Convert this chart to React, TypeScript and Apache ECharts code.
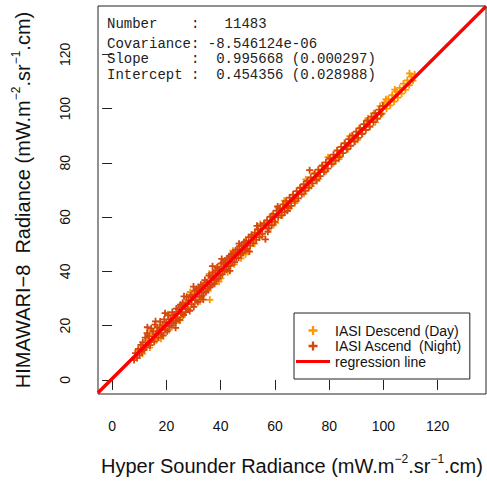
import React, { useEffect, useRef } from "react";
import * as echarts from "echarts";

// ---- data ----
const AXIS_MIN = -5.2;
const AXIS_MAX = 137.8;
const TICKS = [0, 20, 40, 60, 80, 100, 120];
const SLOPE = 0.995668;
const INTERCEPT = 0.454356;
const STAT_LINES = [
  "Number\u00A0\u00A0\u00A0\u00A0:\u00A0\u00A0\u00A011483",
  "Covariance:\u00A0-8.546124e-06",
  "Slope\u00A0\u00A0\u00A0\u00A0\u00A0:\u00A0\u00A00.995668\u00A0(0.000297)",
  "Intercept\u00A0:\u00A0\u00A00.454356\u00A0(0.028988)",
];
const SERIES_NAMES = ["IASI Descend (Day)", "IASI Ascend\u00A0\u00A0(Night)", "regression line"];

const dayPoints = [
  [9.5, 10.8], [11.2, 9.6], [12.8, 14.2], [13.9, 11.9], [15.0, 16.8], [16.3, 14.6], [17.5, 19.4], [18.6, 16.2],
  [19.9, 20.7], [21.0, 18.4], [22.4, 23.6], [23.5, 21.0], [24.6, 26.8], [25.9, 23.2], [27.0, 28.9], [28.3, 25.9],
  [29.5, 31.9], [30.6, 28.1], [31.8, 34.2], [33.0, 30.3], [34.1, 35.9], [35.4, 32.9], [36.0, 29.5], [36.6, 38.6],
  [37.8, 35.3], [38.9, 41.7], [40.1, 37.4], [41.4, 42.6], [42.6, 39.7], [43.9, 45.2], [45.0, 42.6], [46.3, 47.9],
  [47.5, 44.8], [48.8, 50.9], [50.0, 47.6], [51.3, 52.8], [52.5, 50.2], [53.8, 55.2], [55.1, 52.9], [56.3, 57.9],
  [57.6, 55.4], [58.9, 60.6], [60.2, 57.9], [61.5, 63.3], [62.8, 60.7], [64.1, 65.6], [65.4, 63.2], [66.7, 68.1],
  [68.0, 66.0], [69.4, 70.9], [70.7, 68.6], [72.1, 73.7], [73.4, 71.5], [74.8, 76.4], [76.1, 74.2], [77.5, 79.1],
  [78.8, 76.9], [80.2, 81.9], [81.5, 79.8], [82.9, 84.6], [84.2, 82.4], [85.6, 87.3], [86.9, 85.1], [88.3, 90.0],
  [89.6, 87.9], [91.0, 92.7], [92.3, 90.8], [93.7, 95.5], [95.0, 93.2], [96.4, 98.3], [97.7, 96.1], [98.8, 100.9],
  [99.6, 98.2], [100.4, 102.3], [101.1, 100.0], [101.8, 103.5], [102.5, 101.2], [103.2, 104.9], [103.9, 102.6],
  [104.6, 106.3], [105.3, 104.0], [106.0, 107.6], [106.7, 105.5], [107.4, 109.2], [108.1, 106.9], [108.8, 110.4],
  [109.5, 108.6], [109.6, 113.0], [110.2, 111.8], [110.9, 110.3], [111.5, 112.6],
  [14.6, 18.1], [18.0, 15.2], [20.6, 24.2], [25.1, 21.9], [28.8, 32.4], [32.4, 29.0], [35.8, 39.1], [39.4, 36.2],
  [44.5, 47.6], [49.2, 46.3], [54.6, 57.5], [59.5, 57.1], [63.5, 66.1], [67.4, 65.2], [71.4, 73.9], [75.5, 73.3],
  [79.6, 82.1], [83.6, 81.4], [87.6, 89.8], [90.4, 88.5], [94.3, 96.4], [97.0, 95.0], [100.9, 103.4], [104.2, 107.0],
];

const nightPoints = [
  [8.1, 7.3], [8.6, 9.9], [9.2, 8.1], [9.7, 11.4], [10.1, 9.0], [10.6, 12.9], [11.0, 10.4], [11.3, 13.8],
  [11.8, 11.1], [12.2, 15.6], [12.5, 12.0], [12.9, 17.2], [13.3, 13.5], [13.6, 16.1], [14.0, 12.8], [14.4, 18.9],
  [14.7, 14.9], [15.1, 17.8], [15.5, 14.1], [15.8, 20.4], [16.2, 16.9], [16.6, 19.3], [17.0, 15.6], [17.3, 18.2],
  [17.7, 21.5], [18.1, 17.0], [18.5, 20.0], [18.8, 16.4], [19.2, 22.3], [19.6, 18.4], [20.0, 21.1], [20.3, 17.9],
  [20.7, 23.8], [21.1, 19.6], [21.5, 22.4], [21.8, 20.1], [22.2, 25.0], [22.6, 20.9], [23.0, 24.1], [23.3, 21.6],
  [23.7, 26.3], [24.1, 22.8], [24.5, 25.9], [24.8, 22.1], [25.2, 27.7], [25.6, 24.3], [26.0, 28.4], [26.3, 23.9],
  [26.7, 27.1], [27.1, 25.0], [27.5, 30.6], [27.8, 26.2], [28.2, 29.3], [28.6, 25.4], [29.0, 31.2], [29.3, 27.8],
  [29.7, 30.5], [30.1, 26.9], [30.5, 32.8], [30.8, 29.4], [31.2, 33.5], [31.6, 28.7], [32.0, 33.9], [32.3, 30.6],
  [32.7, 35.1], [33.1, 31.0], [33.5, 34.7], [33.8, 32.2], [34.2, 36.8], [34.6, 32.4], [35.0, 36.1], [35.3, 33.6],
  [35.7, 38.4], [36.1, 34.2], [36.5, 37.9], [36.8, 35.0], [37.2, 39.6], [37.6, 35.5], [38.0, 40.2], [38.3, 36.9],
  [38.7, 41.4], [39.1, 37.3], [39.5, 40.8], [39.8, 38.6], [40.2, 42.9], [40.6, 38.9], [41.0, 43.3], [41.3, 40.1],
  [41.7, 44.0], [42.1, 40.6], [42.5, 44.8], [42.8, 41.9], [43.2, 45.6], [43.6, 42.0], [44.0, 46.3], [44.3, 43.5],
  [44.7, 46.9], [45.1, 43.4], [45.5, 47.8], [45.8, 44.9], [46.2, 48.1], [46.6, 45.0], [47.0, 49.3], [47.4, 46.2],
  [47.8, 49.6], [48.2, 46.8], [48.6, 50.7], [49.0, 47.9], [49.4, 51.2], [49.8, 48.4], [50.3, 52.6], [50.9, 49.5],
  [51.4, 53.5], [52.0, 50.4], [52.6, 54.3], [53.1, 51.6], [53.7, 55.6], [54.3, 52.5], [54.8, 56.9], [55.4, 53.8],
  [56.0, 57.6], [56.5, 51.8], [57.1, 58.8], [57.7, 55.9], [58.3, 60.1], [58.8, 57.0], [59.4, 61.2], [60.0, 58.3],
  [60.6, 62.4], [61.2, 59.9], [61.8, 63.1], [62.4, 60.6], [63.0, 64.7], [63.6, 61.8], [64.2, 65.9], [64.8, 63.4],
  [65.4, 67.2], [66.0, 64.1], [66.7, 68.3], [67.3, 65.8], [68.0, 69.6], [68.6, 66.9], [69.3, 70.8], [69.9, 68.4],
  [70.6, 72.1], [71.2, 69.7], [71.9, 73.3], [72.5, 70.8], [72.8, 77.3], [73.2, 74.6], [73.9, 72.4], [74.6, 76.0],
  [75.3, 73.7], [76.0, 77.5], [76.7, 75.1], [77.4, 78.9], [78.1, 76.6], [78.8, 80.2], [79.5, 77.9], [80.2, 81.6],
  [80.9, 79.5], [81.6, 83.0], [82.3, 80.7], [83.0, 84.5], [83.7, 82.1], [84.4, 85.9], [85.1, 83.6], [85.8, 87.2],
  [86.5, 85.0], [87.2, 88.7], [87.9, 86.3], [88.6, 90.1], [89.3, 87.8], [90.0, 91.5], [90.7, 89.2], [91.4, 92.8],
  [92.1, 90.6], [92.8, 94.3], [93.5, 92.1], [94.2, 95.6], [94.9, 93.4], [95.6, 97.0], [96.3, 95.0], [97.0, 98.3],
  [97.7, 96.4], [98.4, 99.6], [99.1, 97.9], [99.8, 101.0],
  [13.0, 19.4], [16.0, 21.6], [19.5, 24.6], [23.4, 19.2], [26.5, 30.8], [30.0, 34.4], [33.6, 29.6], [37.0, 41.9],
  [40.4, 44.6], [43.4, 40.2], [46.8, 50.2], [50.6, 47.3], [53.4, 56.8], [57.4, 54.6], [61.0, 63.9], [64.6, 62.3],
];

const PLUS = "path://M2.6,0H4.4V2.6H7V4.4H4.4V7H2.6V4.4H0V2.6H2.6Z";
const LINE_ICON = "path://M0,0H34V3H0Z";
const DAY_COLOR = "#FF9500";
const NIGHT_COLOR = "#D4470F";
const REG_COLOR = "#FF0000";
const SANS = "Liberation Sans, Arial, sans-serif";
const MONO = "Liberation Mono, Courier New, monospace";

const nameRich = {
  n: { fontSize: 20, lineHeight: 26, fontFamily: SANS, color: "#111" },
  s: { fontSize: 12, lineHeight: 12, fontFamily: SANS, color: "#111", verticalAlign: "top" },
};

export default function App() {
  const ref = useRef<HTMLDivElement>(null);
  useEffect(() => {
    if (!ref.current) return;
    const chart = echarts.init(ref.current, null, { renderer: "svg" });
    const regData = [
      [AXIS_MIN, SLOPE * AXIS_MIN + INTERCEPT],
      [AXIS_MAX, SLOPE * AXIS_MAX + INTERCEPT],
    ];
    const axisCommon = {
      type: "value",
      min: AXIS_MIN,
      max: AXIS_MAX,
      axisLine: { show: false },
      splitLine: { show: false },
      axisTick: { show: true, inside: false, length: 10, lineStyle: { color: "#222", width: 1 }, customValues: TICKS },
      nameLocation: "middle",
      nameTextStyle: { rich: nameRich },
    };
    chart.setOption({
      animation: false,
      backgroundColor: "#fff",
      grid: { left: 98, top: 6, right: 1, bottom: 86, show: true, borderColor: "#222", borderWidth: 1, containLabel: false },
      xAxis: {
        ...axisCommon,
        name: "{n|Hyper Sounder Radiance (mW.m}{s|\u22122}{n|.sr}{s|\u22121}{n|.cm)}",
        nameGap: 59,
        axisLabel: { customValues: TICKS, margin: 25, fontSize: 14, fontFamily: SANS, color: "#111" },
      },
      yAxis: {
        ...axisCommon,
        name: "{n|HIMAWARI\u22128  Radiance (mW.m}{s|\u22122}{n|.sr}{s|\u22121}{n|.cm)}",
        nameGap: 62,
        nameRotate: 90,
        axisLabel: { customValues: TICKS, margin: 26, fontSize: 14, fontFamily: SANS, color: "#111", rotate: 90 },
      },
      legend: {
        orient: "vertical",
        left: 294,
        top: 313,
        padding: [10, 8, 10, 2],
        borderColor: "#222",
        borderWidth: 1,
        itemWidth: 34,
        itemHeight: 9,
        itemGap: 0.5,
        selectedMode: false,
        textStyle: { fontSize: 14, fontFamily: SANS, color: "#111", lineHeight: 15 },
        data: [
          { name: SERIES_NAMES[0], icon: PLUS },
          { name: SERIES_NAMES[1], icon: PLUS },
          { name: SERIES_NAMES[2], icon: LINE_ICON },
        ],
      },
      graphic: STAT_LINES.map((t, i) => ({
        type: "text",
        x: 107,
        y: [24, 44, 59, 75][i],
        style: { text: t, fontSize: 14, fontFamily: MONO, fill: "#222", verticalAlign: "middle" },
        z: 10,
      })),
      series: [
        {
          name: SERIES_NAMES[0],
          type: "scatter",
          data: dayPoints,
          symbol: PLUS,
          symbolSize: 7,
          itemStyle: { color: DAY_COLOR, opacity: 1 },
          z: 2,
        },
        {
          name: SERIES_NAMES[1],
          type: "scatter",
          data: nightPoints,
          symbol: PLUS,
          symbolSize: 7,
          itemStyle: { color: NIGHT_COLOR, opacity: 1 },
          z: 3,
        },
        {
          name: SERIES_NAMES[2],
          type: "line",
          data: regData,
          symbol: "none",
          lineStyle: { color: REG_COLOR, width: 3.5 },
          itemStyle: { color: REG_COLOR },
          z: 4,
        },
      ],
    });
    return () => chart.dispose();
  }, []);
  return <div ref={ref} style={{ position: "fixed", left: 0, top: 0, width: 487, height: 481 }} />;
}
